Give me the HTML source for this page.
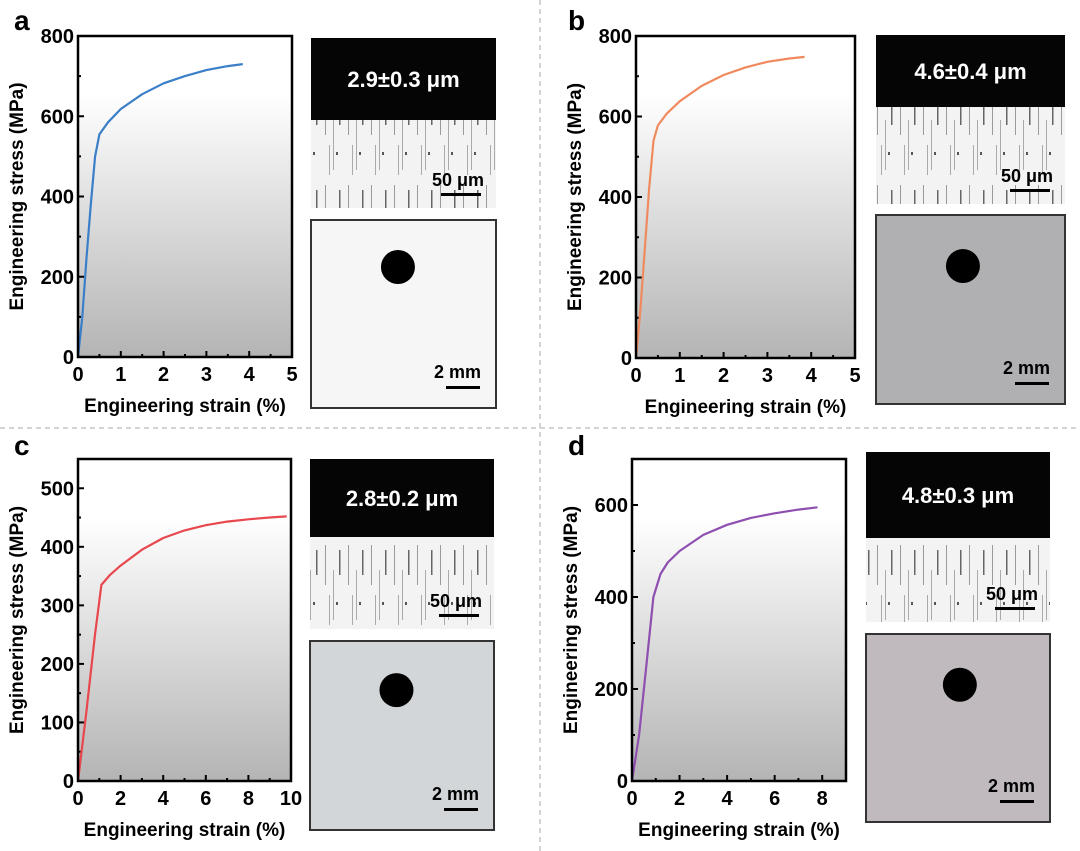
<!DOCTYPE html>
<html><head><meta charset="utf-8"><style>
body{margin:0;background:#fff;}
svg{display:block;font-family:"Liberation Sans",sans-serif;font-weight:bold;}
</style></head><body>
<svg id="fig" width="1080" height="851" viewBox="0 0 1080 851" xmlns="http://www.w3.org/2000/svg">
<defs>
<linearGradient id="bg" x1="0" y1="0" x2="0" y2="1">
<stop offset="0" stop-color="#ffffff"/><stop offset="0.18" stop-color="#ffffff"/><stop offset="1" stop-color="#b4b4b4"/></linearGradient>
<pattern id="streak" width="23" height="90" patternUnits="userSpaceOnUse">
<rect width="23" height="90" fill="#f3f3f3"/>
<rect x="3" y="5" width="1" height="40" fill="#9a9a9a"/>
<rect x="11" y="30" width="1" height="50" fill="#aaa"/>
<rect x="17" y="10" width="1.5" height="25" fill="#666"/>
<rect x="7" y="55" width="1" height="30" fill="#aaa"/>
<rect x="14" y="62" width="2" height="3" fill="#555"/>
</pattern>
</defs>
<line x1="540" y1="0" x2="540" y2="851" stroke="#aaa" stroke-dasharray="5,4"/>
<line x1="0" y1="428" x2="1080" y2="428" stroke="#aaa" stroke-dasharray="5,4"/>
</svg>
<script>
const NS="http://www.w3.org/2000/svg";
const fig=document.getElementById('fig');
// panel data
const strainA=[0,0.1,0.2,0.3,0.4,0.5,0.7,1,1.5,2,2.5,3,3.5,3.85];
const stressA=[0,100,250,380,500,555,585,618,655,682,700,715,725,730];
const strainB=[0,0.1,0.2,0.3,0.4,0.5,0.7,1,1.5,2,2.5,3,3.5,3.85];
const stressB=[0,120,270,420,540,578,607,638,676,703,722,736,744,748];
const strainC=[0,0.4,0.8,1.1,1.5,2,3,4,5,6,7,8,9,9.8];
const stressC=[0,120,250,335,352,368,395,415,428,437,443,447,450,452];
const strainD=[0,0.3,0.6,0.9,1.2,1.5,2,3,4,5,6,7,7.8];
const stressD=[0,100,250,400,450,475,500,535,557,572,582,590,595];
const xTicksA=[0,1,2,3,4,5], yTicksA=[0,200,400,600,800];
const xTicksC=[0,2,4,6,8,10], yTicksC=[0,100,200,300,400,500];
const xTicksD=[0,2,4,6,8], yTicksD=[0,200,400,600];
const labels=['2.9±0.3 μm','4.6±0.4 μm','2.8±0.2 μm','4.8±0.3 μm'];

function el(tag,attrs,parent){const e=document.createElementNS(NS,tag);for(const k in attrs)e.setAttribute(k,attrs[k]);(parent||fig).appendChild(e);return e;}

const panels=[
 {id:'a',L:78,R:292,T:36,B:357,xmax:5,ymax:800,xs:strainA,ys:stressA,xt:xTicksA,yt:yTicksA,col:'#3a7fc8',lx:14,ly:30,
  img:{x:311,w:185,bt:38,bb:120,tb:208,it:220,ib:408,bg:'#f6f6f6',hx:0.47,hy:0.25,r:17}},
 {id:'b',L:636,R:855,T:36,B:358,xmax:5,ymax:800,xs:strainB,ys:stressB,xt:xTicksA,yt:yTicksA,col:'#f08a5e',lx:568,ly:30,
  img:{x:876,w:189,bt:35,bb:107,tb:204,it:215,ib:404,bg:'#b0b0b3',hx:0.46,hy:0.27,r:17}},
 {id:'c',L:78,R:291,T:459,B:781,xmax:10,ymax:550,xs:strainC,ys:stressC,xt:xTicksC,yt:yTicksC,col:'#e8474e',lx:14,ly:455,
  img:{x:310,w:184,bt:459,bb:537,tb:629,it:641,ib:830,bg:'#d2d6d8',hx:0.47,hy:0.26,r:17}},
 {id:'d',L:632,R:846,T:459,B:781,xmax:9,ymax:700,xs:strainD,ys:stressD,xt:xTicksD,yt:yTicksD,col:'#8e4fb0',lx:568,ly:455,
  img:{x:866,w:184,bt:452,bb:538,tb:622,it:634,ib:822,bg:'#c0babe',hx:0.51,hy:0.27,r:17}}
];

panels.forEach((p,i)=>{
 const g=el('g',{});
 
 
 const sx=v=>p.L+(p.R-p.L)*v/p.xmax, sy=v=>p.B-(p.B-p.T)*v/p.ymax;
 const t=el('text',{x:p.lx,y:p.ly,'font-size':28},g);t.textContent=p.id;
 
 
 const bg=el('rect',{x:p.L,y:p.T,width:p.R-p.L,height:p.B-p.T,fill:'url(#bg)'},g);
 
 
 p.xt.forEach((v,k)=>{
  el('line',{x1:sx(v),x2:sx(v),y1:p.B,y2:p.B-6,stroke:'#000','stroke-width':2},g);
  if(k<p.xt.length-1){const m=(v+p.xt[k+1])/2;el('line',{x1:sx(m),x2:sx(m),y1:p.B,y2:p.B-3,stroke:'#000','stroke-width':2},g);}
  const tx=el('text',{x:sx(v),y:p.B+24,'font-size':20,'text-anchor':'middle'},g);tx.textContent=v;
  
  
 });
 p.yt.forEach((v,k)=>{
  el('line',{x1:p.L,x2:p.L+6,y1:sy(v),y2:sy(v),stroke:'#000','stroke-width':2},g);
  const m=v+(p.yt[1]-p.yt[0])/2; if(m<p.ymax)el('line',{x1:p.L,x2:p.L+3,y1:sy(m),y2:sy(m),stroke:'#000','stroke-width':2},g);
  const ty=el('text',{x:p.L-4,y:sy(v)+7,'font-size':20,'text-anchor':'end'},g);ty.textContent=v;
  
  
 });
 const pts=p.xs.map((x,k)=>sx(x).toFixed(1)+','+sy(p.ys[k]).toFixed(1)).join(' ');
 const ln=el('polyline',{points:pts,fill:'none',stroke:p.col,'stroke-width':2.2,'stroke-linejoin':'round'},g);
 
 
 el('rect',{x:p.L,y:p.T,width:p.R-p.L,height:p.B-p.T,fill:'none',stroke:'#000','stroke-width':2.5},g);
 const xl=el('text',{x:(p.L+p.R)/2,y:p.B+55,'font-size':19,'text-anchor':'middle'},g);xl.textContent='Engineering strain (%)';
 
 
 const yl=el('text',{x:0,y:0,'font-size':19,'text-anchor':'middle',transform:`translate(${p.L-55},${(p.T+p.B)/2}) rotate(-90)`},g);yl.textContent='Engineering stress (MPa)';
 
 
 const m=p.img;
 const mg=el('g',{},g);
 
 
 el('rect',{x:m.x,y:m.bt,width:m.w,height:m.bb-m.bt,fill:'#050505'},mg);
 el('rect',{x:m.x,y:m.bb,width:m.w,height:m.tb-m.bb,fill:'url(#streak)'},mg);
 const gl=el('text',{x:m.x+m.w/2,y:(m.bt+m.bb)/2+8,'font-size':22,fill:'#fff','text-anchor':'middle'},mg);gl.textContent=labels[i];
 
 
 const s1=el('text',{x:m.x+m.w-12,y:m.tb-22,'font-size':18,'text-anchor':'end'},mg);s1.textContent='50 μm';
 
 
 el('rect',{x:m.x+m.w-55,y:m.tb-15,width:40,height:3,fill:'#000'},mg);
 const pg=el('g',{},g);
 
 
 el('rect',{x:m.x,y:m.it,width:m.w,height:m.ib-m.it,fill:m.bg,stroke:'#333','stroke-width':2},pg);
 el('circle',{cx:m.x+m.w*m.hx,cy:m.it+(m.ib-m.it)*m.hy,r:m.r,fill:'#000'},pg);
 const s2=el('text',{x:m.x+m.w-15,y:m.ib-30,'font-size':18,'text-anchor':'end'},pg);s2.textContent='2 mm';
 
 
 el('rect',{x:m.x+m.w-50,y:m.ib-22,width:34,height:3,fill:'#000'},pg);
});
</script>
</body></html>
